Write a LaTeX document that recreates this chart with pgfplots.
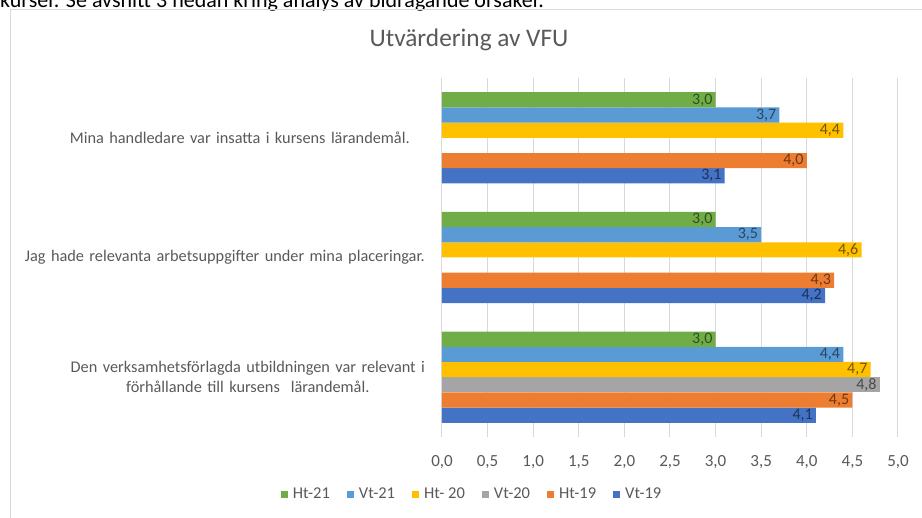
\documentclass[border=0pt]{standalone}
\usepackage{pgfplots}
\pgfplotsset{compat=1.18}
\usepackage{fontspec}
\setmainfont{Carlito}
\definecolor{cVtA}{HTML}{4472C4}
\definecolor{cHtA}{HTML}{ED7D31}
\definecolor{cVtB}{HTML}{A5A5A5}
\definecolor{cHtB}{HTML}{FFC000}
\definecolor{cVtC}{HTML}{5B9BD5}
\definecolor{cHtC}{HTML}{70AD47}
\definecolor{txt}{HTML}{595959}
\definecolor{grd}{HTML}{D9D9D9}
\begin{document}
\begin{tikzpicture}
\path[use as bounding box] (0pt,0pt) rectangle (922pt,518pt);
\node[anchor=base west, inner sep=0pt, font=\fontsize{22}{26}\selectfont] at (0pt,510pt) {kurser. Se avsnitt 3 nedan kring analys av bidragande orsaker.};
\draw[grd, line width=1pt] (10pt,-5pt) rectangle (930pt,508pt);
\node[anchor=base, inner sep=0pt, text=txt, font=\fontsize{25.3}{30}\selectfont] at (469pt,471pt) {Utvärdering av VFU};
\begin{axis}[
  scale only axis, width=456pt, height=359pt,
  at={(442pt,81pt)}, anchor=south west,
  xmin=0, xmax=5, ymin=-0.5, ymax=2.5,
  xtick={0,0.5,...,5},
  ytick={0,1,2},
  yticklabels={{\hspace*{46pt}Den verksamhetsförlagda utbildningen var relevant i\\\hspace*{46pt}förhållande till kursens\ \ lärandemål.},
               {Jag hade relevanta arbetsuppgifter under mina placeringar.},
               {\hspace*{30pt}Mina handledare var insatta i kursens lärandemål.}},
  yticklabel style={text width=410pt, align=center, anchor=east, xshift=-12pt, inner sep=0pt, font=\fontsize{16.3}{20}\selectfont, text=txt},
  xticklabel style={anchor=center, yshift=-25pt, font=\fontsize{17}{20}\selectfont, text=txt},
  /pgf/number format/.cd, use comma, fixed, fixed zerofill, precision=1, assume math mode=true,
  /pgfplots/.cd,
  xmajorgrids, grid style={grd, line width=1pt},
  major tick length=0pt,
  axis line style={draw=none},
  xbar, bar width=0.127,
  nodes near coords,
  nodes near coords style={anchor=east, xshift=-3pt, inner sep=0pt, font=\fontsize{16}{19}\selectfont},
  legend columns=6,
  reverse legend,
  legend style={draw=none, fill=none, at={(0.066,-0.159)}, anchor=center,
    font=\fontsize{16.5}{20}\selectfont, text=txt,
    /tikz/every even column/.append style={column sep=15pt}},
  legend image code/.code={\fill (0pt,-3.5pt) rectangle (7pt,3.5pt); \path (10pt,0pt);},
]
\addplot[fill=cVtA, draw=none, bar shift=-0.3175, every node near coord/.append style={text=cVtA!45!black}] coordinates {(4.1,0) (4.2,1) (3.1,2)};
\addlegendentry{Vt-19}
\addplot[fill=cHtA, draw=none, bar shift=-0.1905, every node near coord/.append style={text=cHtA!45!black}] coordinates {(4.5,0) (4.3,1) (4.0,2)};
\addlegendentry{Ht-19}
\addplot[fill=cVtB, draw=none, bar shift=-0.0635, every node near coord/.append style={text=cVtB!45!black}] coordinates {(4.8,0)};
\addlegendentry{Vt-20}
\addplot[fill=cHtB, draw=none, bar shift=0.0635, every node near coord/.append style={text=cHtB!45!black}] coordinates {(4.7,0) (4.6,1) (4.4,2)};
\addlegendentry{Ht- 20}
\addplot[fill=cVtC, draw=none, bar shift=0.1905, every node near coord/.append style={text=cVtC!45!black}] coordinates {(4.4,0) (3.5,1) (3.7,2)};
\addlegendentry{Vt-21}
\addplot[fill=cHtC, draw=none, bar shift=0.3175, every node near coord/.append style={text=cHtC!45!black}] coordinates {(3.0,0) (3.0,1) (3.0,2)};
\addlegendentry{Ht-21}
\end{axis}
\end{tikzpicture}
\end{document}
